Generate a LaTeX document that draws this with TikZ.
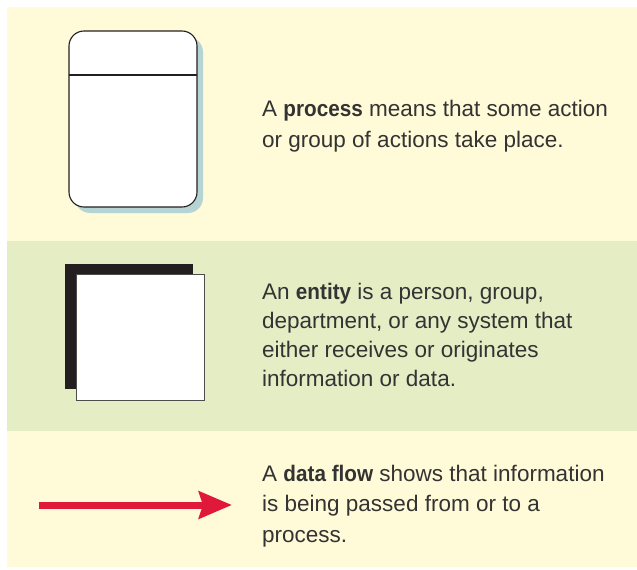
\documentclass[tikz,border=0pt]{standalone}
\usepackage{fontspec}
\setmainfont{Liberation Sans}[BoldFeatures={FakeStretch=0.92}]
\usetikzlibrary{arrows.meta}
\definecolor{paneyellow}{RGB}{255,250,215}
\definecolor{panegreen}{RGB}{229,237,197}
\definecolor{shadowblue}{RGB}{183,212,212}
\definecolor{ink}{RGB}{35,31,32}
\definecolor{txt}{RGB}{51,51,51}
\definecolor{flowred}{RGB}{224,24,58}
\tikzset{
  x=1pt, y=-1pt,
  desc/.style={anchor=base west, align=left, inner sep=0pt, text=txt},
  procbox/.style={fill=white, draw=ink, line width=1.1pt, rounded corners=15pt},
  procshadow/.style={fill=shadowblue, draw=none, rounded corners=15pt},
  entback/.style={fill=ink, draw=none},
  entfront/.style={fill=white, draw=ink!80, line width=0.8pt},
  flow/.style={draw=flowred, line width=7pt, -{Stealth[length=33pt,width=27pt,inset=4pt]}}
}
\begin{document}
\begin{tikzpicture}
\useasboundingbox (0,0) rectangle (637,570);
% panels
\fill[paneyellow] (7,7) rectangle (637,240.5);
\fill[panegreen] (7,240.5) rectangle (637,430.5);
\fill[paneyellow] (7,430.5) rectangle (637,567);
% process symbol
\fill[procshadow] (75,37) rectangle (203,213);
\draw[procbox] (69,31) rectangle (197,207);
\coordinate (pl) at (69,75);
\coordinate (pr) at (197,75);
\draw[ink, line width=1.1pt] (pl) -- (pr);
\node[desc, font=\fontsize{22.5}{31}\selectfont] (ptext) at (262,147.7) {A \textbf{process} means that some action\\or group of actions take place.};
% entity symbol
\fill[entback] (65,264) rectangle (193,389);
\draw[entfront] (76,274) rectangle (204,400);
\node[desc, font=\fontsize{22.5}{28.7}\selectfont] (etext) at (262,386) {An \textbf{entity} is a person, group,\\department, or any system that\\either receives or originates\\information or data.};
% data flow
\coordinate (fa) at (39,505);
\coordinate (fb) at (232,505);
\draw[flow] (fa) -- (fb);
\node[desc, font=\fontsize{22.5}{30.5}\selectfont] (ftext) at (262,542) {A \textbf{data flow} shows that information\\is being passed from or to a\\process.};
\end{tikzpicture}
\end{document}
